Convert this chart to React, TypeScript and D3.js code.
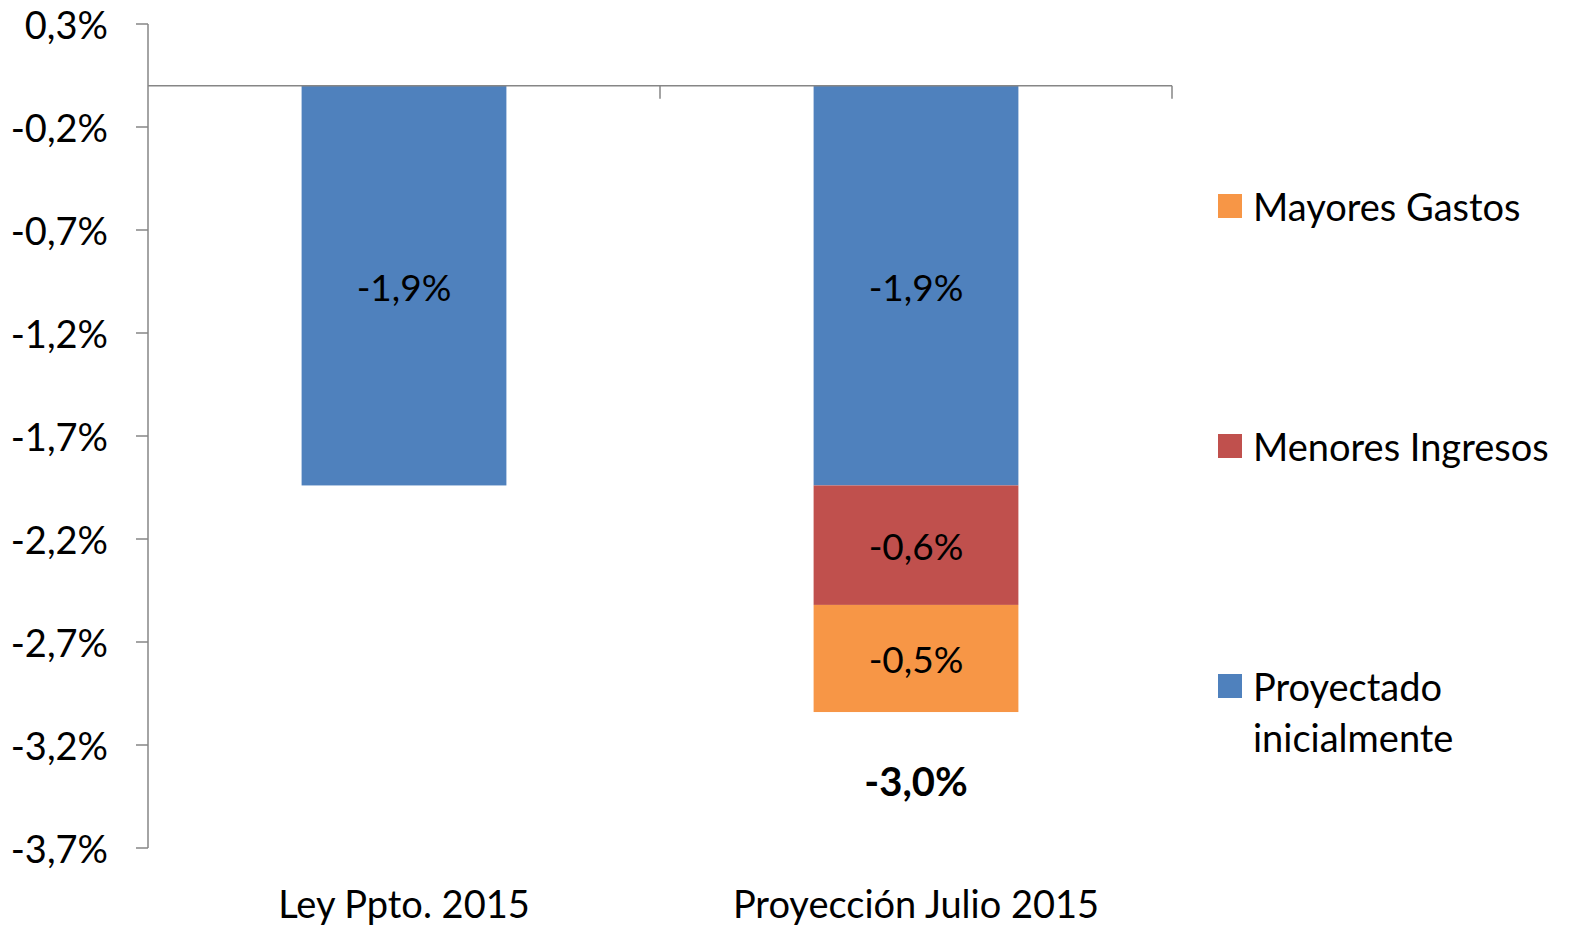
import React from 'react';
import * as d3 from 'd3';

const categories = ['Ley Ppto. 2015', 'Proyección Julio 2015'];
const proyectado = [-1.94, -1.94];
const menoresIngresos = [0, -0.58];
const mayoresGastos = [0, -0.52];
const yTicks = [0.3, -0.2, -0.7, -1.2, -1.7, -2.2, -2.7, -3.2, -3.7];

const series = [
  { name: 'Proyectado inicialmente', lines: ['Proyectado', 'inicialmente'], values: proyectado, color: '#4F81BD' },
  { name: 'Menores Ingresos', lines: ['Menores Ingresos'], values: menoresIngresos, color: '#C0504D' },
  { name: 'Mayores Gastos', lines: ['Mayores Gastos'], values: mayoresGastos, color: '#F79646' },
];

const W = 1573;
const H = 927;
const font = 'Lato, "Open Sans", sans-serif';
const fmt = (v: number) => d3.format('.1f')(v).replace('\u2212', '-').replace('.', ',') + '%';

function App() {
  const x = d3.scaleBand<string>().domain(categories).range([148, 1172]).paddingInner(0.6).paddingOuter(0.3);
  const y = d3.scaleLinear().domain([-3.7, 0.3]).range([848, 24]);
  const y0 = y(0);

  // stack segments downward
  const segs: any[] = [];
  categories.forEach((c, i) => {
    let base = 0;
    series.forEach((s) => {
      const v = s.values[i];
      if (v === 0) return;
      segs.push({ c, from: base, to: base + v, v, color: s.color });
      base += v;
    });
  });
  const totals = categories.map((c, i) => series.reduce((a, s) => a + s.values[i], 0));

  const legendOrder = [series[2], series[1], series[0]];
  const legendY = [206, 446, 686];

  return (
    <svg width={W} height={H} style={{ position: 'absolute', left: 0, top: 0, background: '#fff' }} fontFamily={font}>
      {segs.map((d, i) => (
        <g key={i}>
          <rect x={x(d.c)} width={x.bandwidth()} y={y(d.from)} height={y(d.to) - y(d.from)} fill={d.color} />
          <text x={x(d.c)! + x.bandwidth() / 2} y={(y(d.from) + y(d.to)) / 2 + 2} dy="0.35em" textAnchor="middle" fontSize={37} fill="#000">
            {fmt(d.v)}
          </text>
        </g>
      ))}
      {totals.map((t, i) => i === 1 && (
        <text key={i} x={x(categories[i])! + x.bandwidth() / 2} y={y(t) + 70} dy="0.35em" textAnchor="middle" fontSize={40} fontWeight="bold" fill="#000">
          {fmt(t)}
        </text>
      ))}
      {/* y axis */}
      <line x1={148} x2={148} y1={y(0.3)} y2={y(-3.7)} stroke="#868686" strokeWidth={1.5} />
      {yTicks.map((t) => (
        <g key={t}>
          <line x1={136} x2={148} y1={y(t)} y2={y(t)} stroke="#868686" strokeWidth={1.5} />
          <text x={108} y={y(t) + 2} dy="0.35em" textAnchor="end" fontSize={38} fill="#000">{fmt(t)}</text>
        </g>
      ))}
      {/* zero line with category ticks */}
      <line x1={148} x2={1172} y1={y0} y2={y0} stroke="#868686" strokeWidth={1.5} />
      {[148 + x.step(), 1172].map((p) => (
        <line key={p} x1={p} x2={p} y1={y0} y2={y0 + 13} stroke="#868686" strokeWidth={1.5} />
      ))}
      {categories.map((c) => (
        <text key={c} x={x(c)! + x.bandwidth() / 2} y={918} textAnchor="middle" fontSize={38} fill="#000">{c}</text>
      ))}
      {/* legend */}
      {legendOrder.map((s, i) => (
        <g key={s.name}>
          <rect x={1218} y={legendY[i] - 12} width={24} height={24} fill={s.color} />
          {s.lines.map((l, j) => (
            <text key={l} x={1253} y={legendY[i] + 2 + j * 51} dy="0.35em" fontSize={38} fill="#000">{l}</text>
          ))}
        </g>
      ))}
    </svg>
  );
}

export default App;
